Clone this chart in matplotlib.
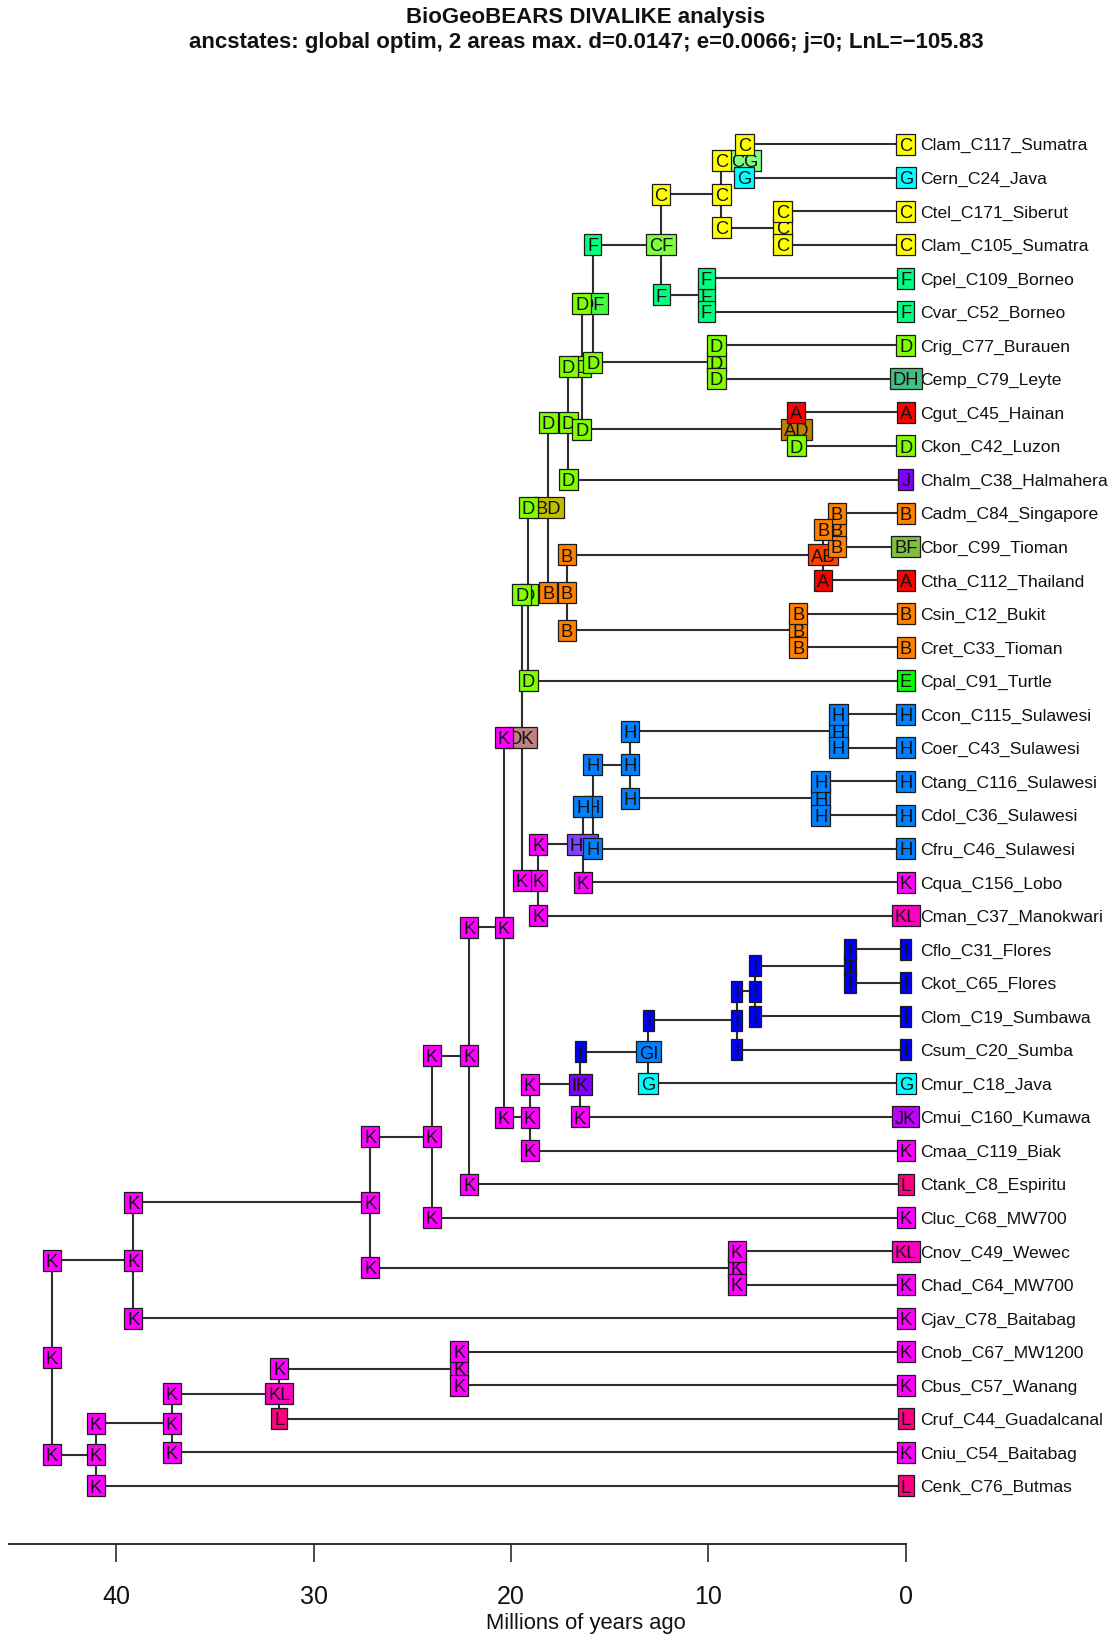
import matplotlib
matplotlib.use("Agg")
import matplotlib.pyplot as plt
import numpy as np
from matplotlib.colors import hsv_to_rgb
from matplotlib.patches import Rectangle

plt.rcParams["font.family"] = ["Liberation Sans", "DejaVu Sans"]

# ---- data ---------------------------------------------------------------
areas = list("ABCDEFGHIJKL")

tip_names = [
    "Clam_C117_Sumatra", "Cern_C24_Java", "Ctel_C171_Siberut", "Clam_C105_Sumatra",
    "Cpel_C109_Borneo", "Cvar_C52_Borneo", "Crig_C77_Burauen", "Cemp_C79_Leyte",
    "Cgut_C45_Hainan", "Ckon_C42_Luzon", "Chalm_C38_Halmahera", "Cadm_C84_Singapore",
    "Cbor_C99_Tioman", "Ctha_C112_Thailand", "Csin_C12_Bukit", "Cret_C33_Tioman",
    "Cpal_C91_Turtle", "Ccon_C115_Sulawesi", "Coer_C43_Sulawesi", "Ctang_C116_Sulawesi",
    "Cdol_C36_Sulawesi", "Cfru_C46_Sulawesi", "Cqua_C156_Lobo", "Cman_C37_Manokwari",
    "Cflo_C31_Flores", "Ckot_C65_Flores", "Clom_C19_Sumbawa", "Csum_C20_Sumba",
    "Cmur_C18_Java", "Cmui_C160_Kumawa", "Cmaa_C119_Biak", "Ctank_C8_Espiritu",
    "Cluc_C68_MW700", "Cnov_C49_Wewec", "Chad_C64_MW700", "Cjav_C78_Baitabag",
    "Cnob_C67_MW1200", "Cbus_C57_Wanang", "Cruf_C44_Guadalcanal", "Cniu_C54_Baitabag",
    "Cenk_C76_Butmas",
]
tip_states = [
    "C", "G", "C", "C", "F", "F", "D", "DH", "A", "D", "J", "B", "BF", "A", "B", "B",
    "E", "H", "H", "H", "H", "H", "K", "KL", "I", "I", "I", "I", "G", "JK", "K", "L",
    "K", "KL", "K", "K", "K", "K", "L", "K", "L",
]

# internal nodes, children listed top then bottom (tips by index)
node_ids = [
    "n01", "n23", "nC", "n45", "nCF", "n67", "nDF", "n89", "nD1", "nD2",
    "n1112", "nAB", "n1415", "nB", "nBD", "nDD", "n1718", "n1920", "nH1", "nH2",
    "nHK", "nK1", "nDK", "n2425", "nI1", "nI2", "nGI", "nIK", "nK2", "nK3",
    "nK4", "nK5", "n3334", "nK6", "nK7", "n3637", "nKL", "nK8", "nK9", "root",
]
node_kids = [
    (0, 1), (2, 3), ("n01", "n23"), (4, 5), ("nC", "n45"), (6, 7), ("nCF", "n67"),
    (8, 9), ("nDF", "n89"), ("nD1", 10),
    (11, 12), ("n1112", 13), (14, 15), ("nAB", "n1415"), ("nD2", "nB"), ("nBD", 16),
    (17, 18), (19, 20), ("n1718", "n1920"), ("nH1", 21),
    ("nH2", 22), ("nHK", 23), ("nDD", "nK1"), (24, 25), ("n2425", 26), ("nI1", 27),
    ("nI2", 28), ("nGI", 29), ("nIK", 30), ("nDK", "nK2"),
    ("nK3", 31), ("nK4", 32), (33, 34), ("nK5", "n3334"), ("nK6", 35), (36, 37),
    ("n3637", 38), ("nKL", 39), ("nK8", 40), ("nK7", "nK9"),
]
node_ages = [
    8.18, 6.24, 9.35, 10.1, 12.4, 9.6, 15.85, 5.55, 16.42, 17.1,
    3.5, 4.18, 5.45, 17.18, 18.11, 19.12, 3.42, 4.31, 13.97, 15.86,
    16.37, 18.62, 19.46, 2.83, 7.64, 8.57, 13.04, 16.5, 19.04, 20.35,
    22.11, 24.02, 8.57, 27.13, 39.13, 22.62, 31.74, 37.19, 41.02, 43.27,
]
node_states = [
    "CG", "C", "C", "F", "CF", "D", "DF", "AD", "D", "D",
    "B", "AB", "B", "B", "BD", "D", "H", "H", "H", "H",
    "HK", "K", "DK", "I", "I", "I", "GI", "IK", "K", "K",
    "K", "K", "K", "K", "K", "K", "KL", "K", "K", "K",
]
split_top = [
    "C", "C", "C", "F", "C", "D", "F", "A", "D", "D",
    "B", "B", "B", "B", "D", "D", "H", "H", "H", "H",
    "H", "K", "D", "I", "I", "I", "I", "I", "K", "K",
    "K", "K", "K", "K", "K", "K", "K", "K", "K", "K",
]
split_bot = [
    "G", "C", "C", "F", "F", "D", "D", "D", "D", "D",
    "B", "A", "B", "B", "B", "D", "H", "H", "H", "H",
    "K", "K", "K", "I", "I", "I", "G", "K", "K", "K",
    "K", "K", "K", "K", "K", "K", "L", "K", "K", "K",
]

age_ticks = [40, 30, 20, 10, 0]
title_lines = ["BioGeoBEARS DIVALIKE analysis",
               "ancstates: global optim, 2 areas max. d=0.0147; e=0.0066; j=0; LnL=\u2212105.83"]
xlabel = "Millions of years ago"

# ---- layout -------------------------------------------------------------
W, H = 1114, 1636
PX_MY = 19.74        # pixels per million years
X0 = 905.8           # pixel column of age 0
Y0, DY = 144.0, 33.55
AXIS_Y = 1543.6
FS = 12.6            # tip label size
FS_BOX = 13.2        # letters inside the state boxes
EM = FS * 100 / 72
LINE = "#2e2e2e"
ADV = dict(A=.667, B=.667, C=.722, D=.722, E=.667, F=.611, G=.778,
           H=.722, I=.278, J=.5, K=.667, L=.556)


def range_color(r):
    return np.mean([hsv_to_rgb((areas.index(a) / len(areas), 1, 1)) for a in r], axis=0)


fig = plt.figure(figsize=(W / 100, H / 100), dpi=100)
ax = fig.add_axes([0, 1 - AXIS_Y / H, 1, AXIS_Y / H])
ax.set_xlim(X0 / PX_MY, (X0 - W) / PX_MY)
ax.set_ylim((AXIS_Y - Y0) / DY, -Y0 / DY)

ypos = {i: float(i) for i in range(len(tip_names))}
xpos = {i: 0.0 for i in range(len(tip_names))}
for nid, (a, b), age in zip(node_ids, node_kids, node_ages):
    ypos[nid] = (ypos[a] + ypos[b]) / 2
    xpos[nid] = age

for nid, (a, b) in zip(node_ids, node_kids):
    x = xpos[nid]
    ax.plot([x, x], [ypos[a], ypos[b]], color=LINE, lw=1.5, zorder=1)
    for c in (a, b):
        ax.plot([x, xpos[c]], [ypos[c], ypos[c]], color=LINE, lw=1.5, zorder=1,
                solid_capstyle="butt")

cap_shift = 0.716 * EM / 2 / DY
cap_shift_box = 0.716 * FS_BOX * 100 / 72 / 2 / DY


def state_box(x, y, state, z):
    w = (sum(ADV[c] for c in state) * EM + 6.3) / PX_MY
    h = 21 / DY
    ax.add_patch(Rectangle((x - w / 2, y - h / 2), w, h, facecolor=range_color(state),
                           edgecolor="#1a1a1a", lw=0.9, zorder=z))
    ax.text(x, y + cap_shift_box, state, ha="center", va="baseline", fontsize=FS_BOX,
            color="#111111", zorder=z + 0.5)


for nid, st in zip(node_ids, node_states):
    state_box(xpos[nid], ypos[nid], st, 3)
for nid, (a, b), st_a, st_b in zip(node_ids, node_kids, split_top, split_bot):
    state_box(xpos[nid], ypos[a], st_a, 5)
    state_box(xpos[nid], ypos[b], st_b, 5)
for i, (name, st) in enumerate(zip(tip_names, tip_states)):
    state_box(0.0, i, st, 7)
    ax.annotate(name, (0.0, i + cap_shift), xytext=(14.2 * 72 / 100, 0),
                textcoords="offset points", ha="left", va="baseline",
                fontsize=FS, color="#111111")

# axis
for s in ("top", "right", "left"):
    ax.spines[s].set_visible(False)
ax.spines["bottom"].set_bounds(0, 45.43)
ax.spines["bottom"].set_color(LINE)
ax.spines["bottom"].set_linewidth(1.4)
ax.set_yticks([])
ax.set_xticks(age_ticks)
ax.set_xticklabels([str(t) for t in age_ticks])
ax.tick_params(axis="x", length=12.9, width=1.2, color=LINE, labelsize=18, pad=17,
               labelcolor="#111111")
ax.patch.set_visible(False)

fig.text(586 / W, 1 - 1624 / H, xlabel, ha="center", va="center", fontsize=15.8,
         color="#111111")
fig.text(586 / W, 1 - 22.6 / H, title_lines[0], ha="center", va="baseline",
         fontsize=16, fontweight="bold", color="#111111")
fig.text(586 / W, 1 - 47.6 / H, title_lines[1], ha="center", va="baseline",
         fontsize=16, fontweight="bold", color="#111111")

fig.savefig("out.png", dpi=100)
